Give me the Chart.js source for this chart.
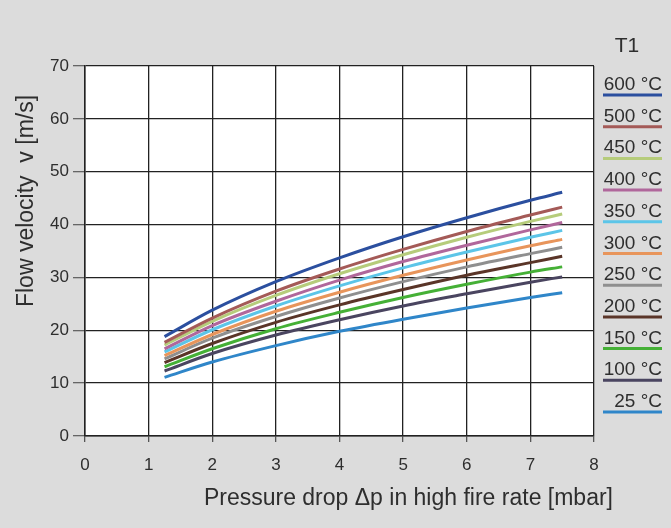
<!DOCTYPE html>
<html>
<head>
<meta charset="utf-8">
<script src="https://cdn.jsdelivr.net/npm/chart.js@4.4.1/dist/chart.umd.min.js"></script>
<style>
  html, body { margin: 0; padding: 0; background: #dcdcdc; }
  #wrap { width: 671px; height: 528px; }
</style>
</head>
<body>
<div id="wrap"><canvas id="chart" width="671" height="528"></canvas></div>
<script>
// pressure drop [mbar] where the curves were read
const pressureDrop = [1.25, 2, 3, 4, 5, 6, 7, 7.5];

// flow velocity [m/s] per temperature T1
const v600 = [18.8, 23.8, 29.2, 33.7, 37.7, 41.3, 44.6, 46.1];
const v500 = [17.7, 22.3, 27.4, 31.6, 35.3, 38.7, 41.8, 43.3];
const v450 = [17.2, 21.7, 26.6, 30.7, 34.3, 37.6, 40.6, 42.0];
const v400 = [16.5, 20.9, 25.5, 29.5, 33.0, 36.1, 39.0, 40.4];
const v350 = [15.9, 20.1, 24.6, 28.4, 31.8, 34.8, 37.6, 38.9];
const v300 = [15.2, 19.2, 23.6, 27.2, 30.4, 33.3, 36.0, 37.2];
const v250 = [14.6, 18.5, 22.6, 26.1, 29.2, 32.0, 34.5, 35.7];
const v200 = [13.9, 17.5, 21.5, 24.8, 27.7, 30.4, 32.8, 34.0];
const v150 = [13.1, 16.5, 20.3, 23.4, 26.2, 28.7, 31.0, 32.0];
const v100 = [12.3, 15.6, 19.1, 22.0, 24.6, 26.9, 29.1, 30.1];
const v25  = [11.1, 14.0, 17.1, 19.8, 22.1, 24.2, 26.2, 27.1];

const seriesLabels = ['600 °C', '500 °C', '450 °C', '400 °C', '350 °C', '300 °C',
                      '250 °C', '200 °C', '150 °C', '100 °C', ' 25 °C'];
const seriesValues = [v600, v500, v450, v400, v350, v300, v250, v200, v150, v100, v25];
const seriesColors = ['#2b4f9f', '#a45a57', '#b6cc7b', '#b0679b', '#5cc5e8', '#e8955b',
                      '#8f8f8f', '#5a3528', '#45b036', '#4a4560', '#2f86c9'];

const xTicks = [0, 1, 2, 3, 4, 5, 6, 7, 8];
const yTicks = [0, 10, 20, 30, 40, 50, 60, 70];

const FONT = '"Liberation Sans", Arial, Helvetica, sans-serif';
const TEXT = '#2e2e2e';

const datasets = seriesLabels.map((label, i) => ({
  label: label,
  data: pressureDrop.map((p, j) => ({ x: p, y: seriesValues[i][j] })),
  borderColor: seriesColors[i],
  backgroundColor: seriesColors[i],
  borderWidth: 3,
  pointRadius: 0,
  cubicInterpolationMode: 'monotone',
  fill: false
}));

const paintPlugin = {
  id: 'paint',
  beforeDraw(chart) {
    const ctx = chart.ctx, a = chart.chartArea;
    ctx.save();
    ctx.fillStyle = '#dcdcdc';
    ctx.fillRect(0, 0, chart.width, chart.height);
    ctx.fillStyle = '#ffffff';
    ctx.fillRect(a.left, a.top, a.right - a.left, a.bottom - a.top);
    ctx.restore();
  },
  afterDraw(chart) {
    const ctx = chart.ctx;
    ctx.save();
    ctx.fillStyle = TEXT;
    ctx.textBaseline = 'alphabetic';

    // x axis title
    ctx.font = '23px ' + FONT;
    ctx.textAlign = 'right';
    ctx.fillText('Pressure drop \u0394p in high fire rate [mbar]', 613, 505);

    // y axis title
    ctx.save();
    ctx.translate(33, 201);
    ctx.rotate(-Math.PI / 2);
    ctx.font = '23px ' + FONT;
    ctx.textAlign = 'center';
    ctx.fillText('Flow velocity  v [m/s]', 0, 0);
    ctx.restore();

    // legend
    ctx.font = '21px ' + FONT;
    ctx.textAlign = 'center';
    ctx.fillText('T1', 627, 52);
    ctx.font = '19px ' + FONT;
    chart.data.datasets.forEach((ds, i) => {
      const y = 95 + i * 31.7;
      ctx.fillStyle = TEXT;
      ctx.textAlign = 'right';
      ctx.fillText(ds.label, 662, y - 5);
      ctx.strokeStyle = ds.borderColor;
      ctx.lineWidth = 3;
      ctx.beginPath();
      ctx.moveTo(603, y);
      ctx.lineTo(662, y);
      ctx.stroke();
    });
    ctx.restore();
  }
};

new Chart(document.getElementById('chart').getContext('2d'), {
  type: 'line',
  data: { datasets: datasets },
  plugins: [paintPlugin],
  options: {
    responsive: false,
    animation: false,
    layout: { padding: { top: 66, right: 77, left: 0, bottom: 0 } },
    plugins: { legend: { display: false }, tooltip: { enabled: false } },
    scales: {
      x: {
        type: 'linear',
        min: 0, max: 8,
        afterBuildTicks: (s) => { s.ticks = xTicks.map(v => ({ value: v })); },
        afterFit: (s) => { s.height = 92; },
        grid: { color: '#222', lineWidth: 1.3, tickLength: 6, tickColor: '#555' },
        border: { color: '#222', width: 1.5 },
        ticks: { color: TEXT, font: { family: FONT, size: 17 }, padding: 13, maxRotation: 0 }
      },
      y: {
        min: 0, max: 70,
        afterBuildTicks: (s) => { s.ticks = yTicks.map(v => ({ value: v })); },
        afterFit: (s) => { s.width = 85; },
        grid: { color: '#222', lineWidth: 1.3, tickLength: 12, tickColor: '#666' },
        border: { color: '#222', width: 1.5 },
        ticks: { color: TEXT, font: { family: FONT, size: 17 }, padding: 4 }
      }
    }
  }
});
</script>
</body>
</html>
